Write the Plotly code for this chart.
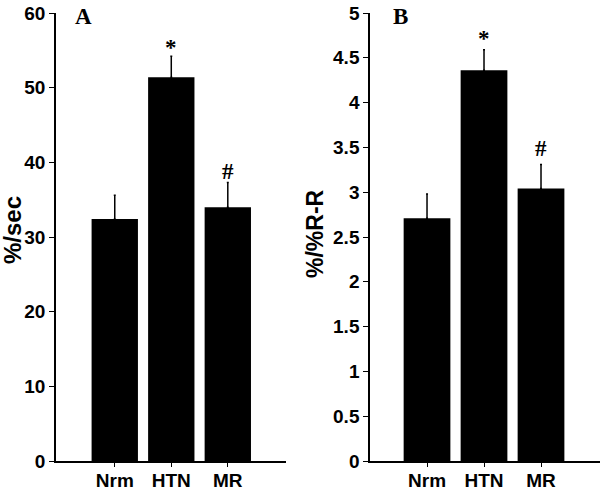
import plotly.graph_objects as go
from plotly.subplots import make_subplots

categories = ["Nrm", "HTN", "MR"]
a_values = [32.4, 51.4, 34.0]
a_err = [3.2, 2.8, 3.3]
b_values = [2.71, 4.36, 3.04]
b_err = [0.27, 0.23, 0.27]
a_marks = ["", "*", "#"]
b_marks = ["", "*", "#"]
a_ticks = [0, 10, 20, 30, 40, 50, 60]
b_ticks = [0, 0.5, 1, 1.5, 2, 2.5, 3, 3.5, 4, 4.5, 5]
b_ticklabels = ["0", "0.5", "1", "1.5", "2", "2.5", "3", "3.5", "4", "4.5", "5"]

fig = make_subplots(rows=1, cols=2)

sans = "Liberation Sans, Arial, sans-serif"
serif = "Liberation Serif, Times New Roman, serif"

W, H, T, B = 600, 493, 13, 32
PH = H - T - B


def py(pixel_y):
    return (H - B - pixel_y) / PH


def err(e):
    return dict(type="data", symmetric=False, array=e, arrayminus=[0] * len(e),
                color="black", thickness=1.5, width=1)


fig.add_trace(go.Bar(x=categories, y=a_values, width=0.82, marker=dict(color="black", line=dict(width=0)),
                     error_y=err(a_err), showlegend=False, hoverinfo="skip"), row=1, col=1)
fig.add_trace(go.Bar(x=categories, y=b_values, width=0.82, marker=dict(color="black", line=dict(width=0)),
                     error_y=err(b_err), showlegend=False, hoverinfo="skip"), row=1, col=2)

xcommon = dict(type="category", showline=True, linecolor="black", linewidth=1.5,
               ticks="outside", ticklen=4, tickcolor="black", tickwidth=1, automargin=False,
               ticklabelstandoff=-3,
               tickfont=dict(family=sans, size=19, color="black", weight="bold"),
               showgrid=False, zeroline=False, fixedrange=True)
ycommon = dict(showline=True, linecolor="black", linewidth=1.5, ticks="outside", ticklen=5,
               tickcolor="black", tickwidth=1, showgrid=False, zeroline=False, automargin=False,
               tickfont=dict(family=sans, size=19, color="black", weight="bold"))

fig.update_xaxes(xcommon, row=1, col=1, domain=[0.0933, 0.4767], range=[-1.04, 3.03])
fig.update_xaxes(xcommon, row=1, col=2, domain=[0.6167, 1.0], range=[-1.0, 3.035])
fig.update_yaxes(ycommon, row=1, col=1, range=[0, 60], tickvals=a_ticks)
fig.update_yaxes(ycommon, row=1, col=2, range=[0, 5], tickvals=b_ticks, ticktext=b_ticklabels)

shifts_a = {"*": -6, "#": -4}
shifts_b = {"*": -3, "#": 1}
for cat, v, e, m in zip(categories, a_values, a_err, a_marks):
    if m:
        fig.add_annotation(x=cat, y=v + e, xref="x", yref="y", text=m, showarrow=False,
                           yanchor="bottom", yshift=shifts_a[m],
                           font=dict(family=serif, size=23, color="black", weight="bold"))
for cat, v, e, m in zip(categories, b_values, b_err, b_marks):
    if m:
        fig.add_annotation(x=cat, y=v + e, xref="x2", yref="y2", text=m, showarrow=False,
                           yanchor="bottom", yshift=shifts_b[m],
                           font=dict(family=serif, size=23, color="black", weight="bold"))

# panel letters
fig.add_annotation(x=83 / W, y=py(16), xref="paper", yref="paper", text="A", showarrow=False,
                   xanchor="center", yanchor="middle",
                   font=dict(family=serif, size=23, color="black", weight="bold"))
fig.add_annotation(x=400 / W, y=py(16), xref="paper", yref="paper", text="B", showarrow=False,
                   xanchor="center", yanchor="middle",
                   font=dict(family=serif, size=23, color="black", weight="bold"))

# axis titles
fig.add_annotation(x=12 / W, y=py(230), xref="paper", yref="paper", text="%/sec", showarrow=False,
                   textangle=-90, xanchor="center", yanchor="middle",
                   font=dict(family=sans, size=24, color="black", weight="bold"))
fig.add_annotation(x=315 / W, y=py(234), xref="paper", yref="paper", text="%/%R-R", showarrow=False,
                   textangle=-90, xanchor="center", yanchor="middle",
                   font=dict(family=sans, size=23, color="black", weight="bold"))

fig.update_layout(width=W, height=H, margin=dict(l=0, r=0, t=T, b=B, autoexpand=False),
                  paper_bgcolor="white", plot_bgcolor="white", bargap=0.18, hovermode=False)
fig.update_yaxes(domain=[0, 1])

fig.write_html("out.html", config={"displayModeBar": False},
               post_script="document.body.style.margin='0';document.body.style.overflow='hidden';")
